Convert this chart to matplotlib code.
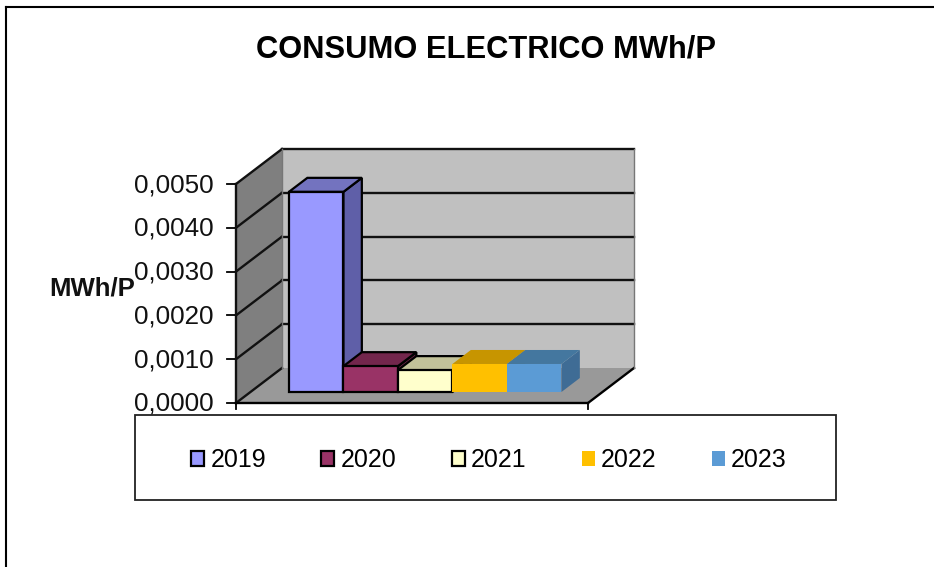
import matplotlib
matplotlib.use("Agg")
import matplotlib.pyplot as plt
from matplotlib.patches import Polygon, Patch, Rectangle

plt.rcParams['font.family'] = ['Liberation Sans', 'DejaVu Sans']

years = ['2019', '2020', '2021', '2022', '2023']
consumo = [0.00457, 0.00059, 0.00050, 0.00064, 0.00064]
colores = ['#9999FF', '#993366', '#FFFFCC', '#FFC000', '#5B9BD5']
laterales = ['#5F5FA8', '#6B2347', '#B5B58F', '#B38600', '#3F6C95']
techos = ['#7373BF', '#73264C', '#C2C29A', '#C79500', '#44779F']
bordes = ['black', 'black', 'black', 'none', 'none']
ticks = [0.0, 0.001, 0.002, 0.003, 0.004, 0.005]
tick_labels = ['0,0000', '0,0010', '0,0020', '0,0030', '0,0040', '0,0050']

W, H = 934, 567
# escala: pixeles por unidad de categoria / por MWh/P
px_x = 54.5
px_y = 219 / 0.005
x_ini = -0.5 - 38.5 / px_x
x_fin = x_ini + 352 / px_x

fig = plt.figure(figsize=(W / 100, H / 100), dpi=100)
ax = fig.add_axes([0, 0, 1, 1])
xmin = x_ini - 236 / px_x
ymin = -(H - 403) / px_y
ax.set_xlim(xmin, xmin + W / px_x)
ax.set_ylim(ymin, ymin + H / px_y)
ax.axis('off')

# desplazamiento oblicuo de la profundidad (z de 0 a 1)
dx = 46 / px_x
dy = 35 / px_y

def p(x, y, z=0):
    return (x + z * dx, y + z * dy)

def cara(puntos, fc, ec='black', lw=1.6, zo=1):
    ax.add_patch(Polygon(puntos, closed=True, fc=fc, ec=ec, lw=lw, zorder=zo, joinstyle='miter'))

ytop = ticks[-1]
# paredes y piso
cara([p(x_ini, 0, 1), p(x_fin, 0, 1), p(x_fin, ytop, 1), p(x_ini, ytop, 1)], '#C0C0C0', ec='none')
cara([p(x_ini, 0), p(x_ini, 0, 1), p(x_ini, ytop, 1), p(x_ini, ytop)], '#7F7F7F', ec='none')
cara([p(x_ini, 0), p(x_fin, 0), p(x_fin, 0, 1), p(x_ini, 0, 1)], '#999999', ec='none')

# rejilla y marcas del eje
for t, etiqueta in zip(ticks, tick_labels):
    if t > 0:
        ax.plot(*zip(p(x_ini, t, 1), p(x_fin, t, 1)), color='#111111', lw=1.7, zorder=2)
    ax.plot(*zip(p(x_ini, t), p(x_ini, t, 1)), color='#111111', lw=1.7, zorder=2)
    ax.plot(*zip(p(x_ini - 9 / px_x, t), p(x_ini, t)), color='black', lw=1.3, zorder=2)
    ax.text(x_ini - 22 / px_x, t - 1 / px_y, etiqueta, ha='right', va='center', fontsize=18.7, color='#111111')

ax.plot(*zip(p(x_ini, 0), p(x_ini, ytop)), color='#111111', lw=1.7, zorder=2)
ax.plot(*zip(p(x_ini, 0, 1), p(x_ini, ytop, 1)), color='#777777', lw=1.0, zorder=2)
ax.plot(*zip(p(x_fin, 0), p(x_fin, 0, 1)), color='black', lw=1.7, zorder=2)
ax.plot(*zip(p(x_fin, 0, 1), p(x_fin, ytop, 1)), color='#777777', lw=1.0, zorder=2)
ax.plot(*zip(p(x_ini, 0), p(x_fin, 0)), color='black', lw=1.7, zorder=2)
ax.plot(*zip(p(x_fin, 0), p(x_fin, -6 / px_y)), color='black', lw=1.3, zorder=2)
ax.plot(*zip(p(x_ini, 0), p(x_ini, -6 / px_y)), color='black', lw=1.3, zorder=2)

# barras 3D, de izquierda a derecha (las de la derecha quedan delante)
z0, z1 = 0.314, 0.714
for i, v in enumerate(consumo):
    l, r = i - 0.5, i + 0.5
    zo = 3 + i * 0.1
    cara([p(r, 0, z0), p(r, 0, z1), p(r, v, z1), p(r, v, z0)], laterales[i], ec=bordes[i], zo=zo)
    cara([p(l, v, z0), p(r, v, z0), p(r, v, z1), p(l, v, z1)], techos[i], ec=bordes[i], zo=zo)
    cara([p(l, 0, z0), p(r, 0, z0), p(r, v, z0), p(l, v, z0)], colores[i], ec=bordes[i], zo=zo)

# textos
ax.text(xmin + 486 / px_x, ymin + (H - 50) / px_y, 'CONSUMO ELECTRICO MWh/P', ha='center', va='center',
        fontsize=22.2, fontweight='bold', color='black')
ax.text(xmin + 92.5 / px_x, ymin + (H - 289) / px_y, 'MWh/P', ha='center', va='center',
        fontsize=18.5, fontweight='bold', color='#111111', zorder=7)

# leyenda
fig.add_artist(Rectangle((135 / W, 1 - 500 / H), 701 / W, 85 / H, transform=fig.transFigure,
                         fc='white', ec='#222222', lw=1.3, zorder=5))
handles = [Patch(fc=c, ec=b, lw=1.6) for c, b in zip(colores, bordes)]
leg = fig.legend(handles, years, ncols=5, loc='center', fontsize=18, frameon=False,
                 handlelength=0.52, handleheight=0.56, handletextpad=0.24, columnspacing=2.22,
                 borderpad=0, borderaxespad=0,
                 bbox_to_anchor=(489 / W, 1 - 460 / H), bbox_transform=fig.transFigure)
leg.set_zorder(6)

# marco exterior del grafico
ax.plot([xmin + 6.5 / px_x] * 2, [ymin, ymin + (H - 6.5) / px_y], color='black', lw=1.5)
ax.plot([xmin + 6.5 / px_x, xmin + W / px_x], [ymin + (H - 6.5) / px_y] * 2, color='black', lw=1.5)

fig.savefig('out.png', dpi=100, facecolor='white')
